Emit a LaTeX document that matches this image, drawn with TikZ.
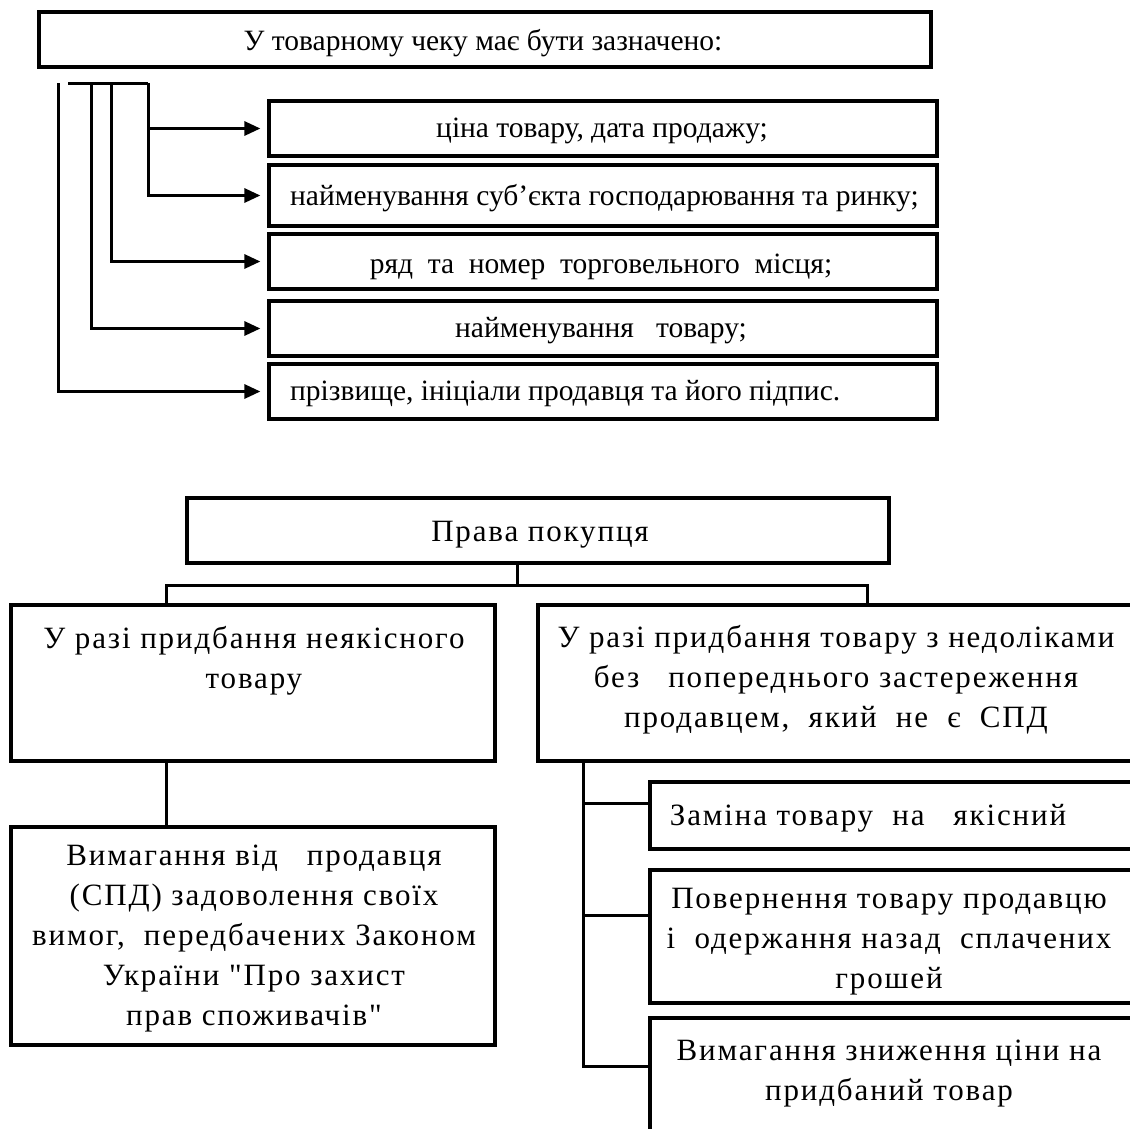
\documentclass[tikz,border=0pt]{standalone}
\usepackage{fontspec}
\setmainfont{Liberation Serif}
\newfontfamily\topfont{Liberation Serif}
\newfontfamily\botfont[LetterSpace=6]{Liberation Serif}
\usetikzlibrary{arrows.meta}
\tikzset{
  box/.style={draw, line width=3.2pt, inner sep=0pt, rectangle},
  conn/.style={line width=3pt},
  arr/.style={line width=3pt, -{Triangle[length=16pt,width=14pt]}, shorten >=7pt},
  ttxt/.style={inner sep=0pt, font=\topfont\fontsize{29.5}{34}\selectfont},
  btxt/.style={inner sep=0pt, align=center, font=\botfont\fontsize{31}{40}\selectfont},
}
\begin{document}
\begin{tikzpicture}[x=1pt,y=-1pt]
\useasboundingbox (0,0) rectangle (1130,1128);
\clip (0,0) rectangle (1130,1128);
% ---------- top part ----------
\node[box, minimum width=892pt, minimum height=55pt] (T) at (485,39.5) {};
\node[ttxt] (Tt) at (483,43) {У товарному чеку має бути зазначено:};
\node[box, minimum width=668pt, minimum height=55pt] (B1) at (603,128.5) {};
\node[box, minimum width=668pt, minimum height=61pt] (B2) at (603,195.5) {};
\node[box, minimum width=668pt, minimum height=55pt] (B3) at (603,261.5) {};
\node[box, minimum width=668pt, minimum height=55pt] (B4) at (603,328.5) {};
\node[box, minimum width=668pt, minimum height=55pt] (B5) at (603,391.5) {};
\node[ttxt] (B1t) at (602,131) {ціна товару,\ дата продажу;};
\node[ttxt, anchor=west] (B2t) at (290,198) {найменування суб’єкта господарювання та ринку;};
\node[ttxt] (B3t) at (601,267) {ряд\ \ та\ \ номер\ \ торговельного\ \ місця;};
\node[ttxt] (B4t) at (601,331) {найменування\ \ \ товару;};
\node[ttxt, anchor=west] (B5t) at (290,394) {прізвище, ініціали продавця та його підпис.};
\coordinate (bus0) at (68,83);
\coordinate (bus1) at (148,83);
\coordinate (bus2) at (111,83);
\coordinate (bus3) at (91,83);
\coordinate (bus4) at (58,83);
\draw[conn] (bus0) -- (bus1);
\draw[arr] (bus1) |- (B1.west);
\draw[arr] (bus1) |- (B2.west);
\draw[arr] (bus2) |- (B3.west);
\draw[arr] (bus3) |- (B4.west);
\draw[arr] (bus4) |- (B5.west);
% ---------- bottom part ----------
\node[box, minimum width=702pt, minimum height=65pt] (P) at (538,530.5) {};
\node[btxt] (Pt) at (540,535) {Права покупця};
\node[box, minimum width=484pt, minimum height=156pt] (L1) at (253,683) {};
\node[btxt] (L1t) at (254,661) {У разі придбання неякісного\\товару};
\node[box, minimum width=484pt, minimum height=218pt] (L2) at (253,936) {};
\node[btxt] (L2t) at (254,939) {Вимагання від\ \ \ продавця\\(СПД) задоволення своїх\\вимог,\ \ передбачених Законом\\України "Про захист\\прав споживачів"};
\node[box, minimum width=596pt, minimum height=156pt] (R1) at (836,683) {};
\node[btxt] (R1t) at (836,680) {У разі придбання товару з недоліками\\без\ \ \ попереднього застереження\\продавцем,\ \ який\ \ не\ \ є\ \ СПД};
\node[box, minimum width=484pt, minimum height=67pt] (S1) at (892,815.5) {};
\node[btxt] (S1t) at (868,818) {Заміна товару\ \ на\ \ \ якісний};
\node[box, minimum width=484pt, minimum height=133pt] (S2) at (892,936.5) {};
\node[btxt] (S2t) at (889,942) {Повернення товару продавцю\\і\ \ одержання назад\ \ сплачених\\грошей};
\node[box, minimum width=484pt, minimum height=122pt] (S3) at (892,1079) {};
\node[btxt] (S3t) at (889,1074) {Вимагання зниження ціни на\\придбаний товар};
\coordinate (ps) at (517,563);
\coordinate (pb) at (517,585);
\coordinate (bl) at (166,585);
\coordinate (br) at (867,585);
\coordinate (r1) at (583,803);
\coordinate (r2) at (583,915);
\coordinate (r3) at (583,1066);
\draw[conn] (ps) -- (pb);
\draw[conn] (L1.north -| bl) -- (bl) -- (br) -- (R1.north -| br);
\draw[conn] (L1.south -| bl) -- (L2.north -| bl);
\draw[conn] (R1.south -| r1) -- (r3) -- (S3.west |- r3);
\draw[conn] (r1) -- (S1.west |- r1);
\draw[conn] (r2) -- (S2.west |- r2);
\end{tikzpicture}
\end{document}
